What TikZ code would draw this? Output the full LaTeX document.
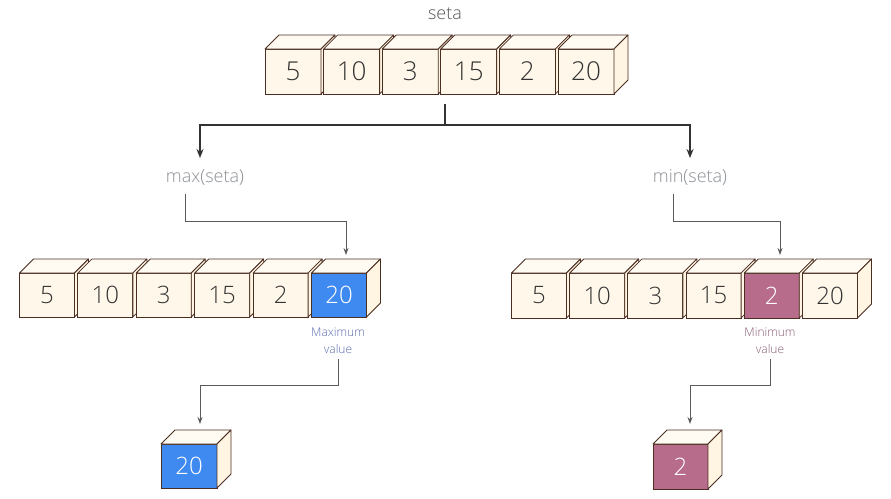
\documentclass[tikz,border=0pt]{standalone}
\usepackage{fontspec}
\IfFontExistsTF{Open Sans Light}{\setmainfont{Open Sans Light}}{\setmainfont{Open Sans}}
\usetikzlibrary{arrows.meta,calc}
\pgfdeclarelayer{bg}
\pgfsetlayers{bg,main}
\definecolor{cubefill}{HTML}{FFF8EA}
\definecolor{cubetop}{HTML}{FFFBF2}
\definecolor{cubeside}{HTML}{FFF5E2}
\definecolor{cubeline}{HTML}{4A2E22}
\definecolor{maxblue}{HTML}{3F8AF0}
\definecolor{minpink}{HTML}{B86C8C}
\definecolor{numtext}{HTML}{333333}
\definecolor{setatext}{HTML}{555555}
\definecolor{functext}{HTML}{8C9096}
\definecolor{maxlbl}{HTML}{5A6AAE}
\definecolor{minlbl}{HTML}{8A5A72}
\definecolor{mainline}{HTML}{333333}
\definecolor{subline}{HTML}{5A5A5A}
\tikzset{
  cubeface/.style={draw=cubeline, line width=1pt, inner sep=0pt, outer sep=0pt, text=numtext},
  cubeedge/.style={draw=cubeline, line width=0.8pt, line join=round},
  cubeshadow/.style={fill=black, opacity=0.22},
  bignum/.style={font=\fontsize{26}{30}\selectfont},
  midnum/.style={font=\fontsize{24}{28}\selectfont},
  mainarrow/.style={draw=mainline, line width=1.5pt, -{Stealth[length=9pt,width=7pt]}},
  subarrow/.style={draw=subline, line width=0.9pt, -{Stealth[length=7pt,width=5pt]}},
  funclabel/.style={text=functext, font=\fontsize{18}{22}\selectfont, inner sep=1pt},
  vallabel/.style={font=\fontsize{12}{17}\selectfont, align=center, inner sep=0pt}
}
% #1 name, #2 cx, #3 cy, #4 w, #5 h, #6 fill, #7 node style, #8 text
\newcommand{\mycube}[8]{%
  \begin{pgfonlayer}{bg}
  \fill[cubeshadow] (#2-#4/2+2.5, #3-#5/2+3) -- ++(14,-14) -- ++(#4,0) -- ++(0,#5) -- ++(-14,14) -- ++(-#4,0) -- cycle;
  \end{pgfonlayer}
  \node[cubeface, fill=#6, minimum width=#4, minimum height=#5, #7] (#1) at (#2,#3) {#8};
  \draw[cubeedge, fill=cubetop] (#1.north west) -- ++(14,-14) -- ++(#4,0) -- (#1.north east) -- cycle;
  \draw[cubeedge, fill=cubeside] (#1.north east) -- ++(14,-14) -- ++(0,#5) -- (#1.south east) -- cycle;
}
\begin{document}
\begin{tikzpicture}[x=1pt,y=-1pt]
\useasboundingbox[fill=white] (0,0) rectangle (891,498);
% title
\node[text=setatext, font=\fontsize{18}{22}\selectfont] (seta) at (445,14) {seta};
% top row
\mycube{t1}{293}{71.5}{56}{45}{cubefill}{bignum}{5}
\mycube{t2}{351.6}{71.5}{56}{45}{cubefill}{bignum}{10}
\mycube{t3}{410.2}{71.5}{56}{45}{cubefill}{bignum}{3}
\mycube{t4}{468.8}{71.5}{56}{45}{cubefill}{bignum}{15}
\mycube{t5}{527.4}{71.5}{56}{45}{cubefill}{bignum}{2}
\mycube{t6}{586}{71.5}{56}{45}{cubefill}{bignum}{20}
% function labels
\node[funclabel] (maxf) at (205,177) {max(seta)};
\node[funclabel] (minf) at (690,177) {min(seta)};
% left row
\mycube{a1}{47}{295}{55}{44}{cubefill}{midnum}{5}
\mycube{a2}{105.4}{295}{55}{44}{cubefill}{midnum}{10}
\mycube{a3}{163.8}{295}{55}{44}{cubefill}{midnum}{3}
\mycube{a4}{222.2}{295}{55}{44}{cubefill}{midnum}{15}
\mycube{a5}{280.6}{295}{55}{44}{cubefill}{midnum}{2}
\mycube{a6}{339}{295}{55}{44}{maxblue}{midnum,text=white}{20}
% right row
\mycube{b1}{539}{295.5}{55}{45}{cubefill}{midnum}{5}
\mycube{b2}{597.2}{295.5}{55}{45}{cubefill}{midnum}{10}
\mycube{b3}{655.4}{295.5}{55}{45}{cubefill}{midnum}{3}
\mycube{b4}{713.6}{295.5}{55}{45}{cubefill}{midnum}{15}
\mycube{b5}{771.8}{295.5}{55}{45}{minpink}{midnum,text=white}{2}
\mycube{b6}{830}{295.5}{55}{45}{cubefill}{midnum}{20}
% value labels
\node[vallabel, text=maxlbl] (maxv) at (338,340.5) {Maximum\\value};
\node[vallabel, text=minlbl] (minv) at (770,340.5) {Minimum\\value};
% result cubes
\mycube{rmax}{189}{466}{56}{44}{maxblue}{midnum,text=white}{20}
\mycube{rmin}{680.5}{466.5}{55}{45}{minpink}{midnum,text=white}{2}
% connector coordinates
\coordinate (setaout) at (445,104);
\coordinate (maxin) at (200,158);
\coordinate (minin) at (690,158);
\coordinate (maxfout) at (185,194);
\coordinate (minfout) at (673,194);
\coordinate (a6in) at (346,255);
\coordinate (b5in) at (780,255);
\coordinate (maxvout) at (338,359);
\coordinate (minvout) at (770,359);
\coordinate (rmaxin) at (200,424);
\coordinate (rminin) at (690,424);
% connectors
\draw[mainarrow] (setaout) -- ++(0,21) -| (maxin);
\draw[mainarrow] (setaout) -- ++(0,21) -| (minin);
\draw[subarrow] (maxfout) -- ++(0,27) -| (a6in);
\draw[subarrow] (minfout) -- ++(0,27) -| (b5in);
\draw[subarrow] (maxvout) -- ++(0,26) -| (rmaxin);
\draw[subarrow] (minvout) -- ++(0,26) -| (rminin);
\end{tikzpicture}
\end{document}
